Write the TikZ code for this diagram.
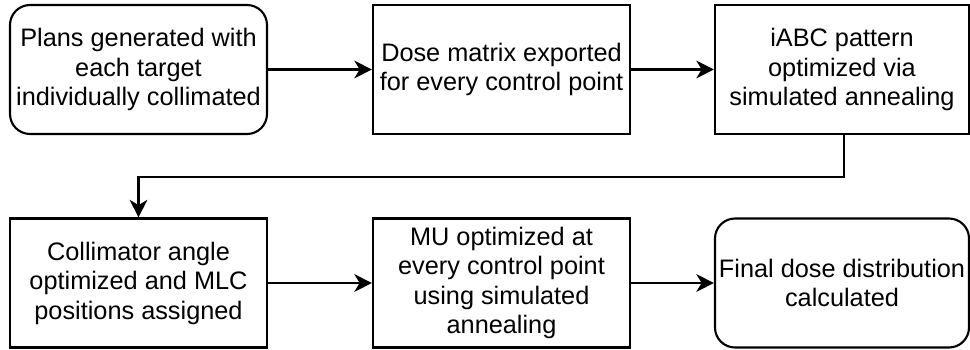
\documentclass[tikz,border=0pt]{standalone}
\usepackage{fontspec}
\setmainfont{Liberation Sans}
\usetikzlibrary{arrows.meta}
\begin{document}
\begin{tikzpicture}[
    proc/.style={draw, line width=1.2pt, minimum width=5.14cm, minimum height=2.58cm, align=center, inner sep=0pt, font=\fontsize{14.4}{16.8}\selectfont},
    term/.style={proc, rounded corners=0.4cm},
    flow/.style={line width=1.2pt, -{Stealth[length=10pt,width=10pt,inset=3pt]}}
]
                \useasboundingbox (0,0) rectangle (19.4,6.98);

                \def\ya{5.59}
                \def\yb{1.32}

                \node[term] (plans) at (2.77,\ya) {Plans generated with\\each target\\individually collimated};
                \node[proc] (dose) at (10.03,\ya) {Dose matrix exported\\for every control point};
                \node[proc, minimum width=5.08cm] (iabc) at (16.84,\ya) {iABC pattern\\optimized via\\simulated annealing};

                \node[proc] (colli) at (2.77,\yb) {Collimator angle\\optimized and MLC\\positions assigned};
                \node[proc] (mu) at (10.03,\yb) {MU optimized at\\every control point\\using simulated\\annealing};
                \node[term, minimum width=5.08cm] (final) at (16.84,\yb) {Final dose distribution\\calculated};

                \coordinate (turn) at (16.88,3.44);

                \draw[flow] (plans) -- (dose);
                \draw[flow] (dose) -- (iabc);
                \draw[flow] (iabc.south -| turn) -- (turn) -| (colli.north);
                \draw[flow] (colli) -- (mu);
                \draw[flow] (mu) -- (final);
            \end{tikzpicture}
\end{document}
